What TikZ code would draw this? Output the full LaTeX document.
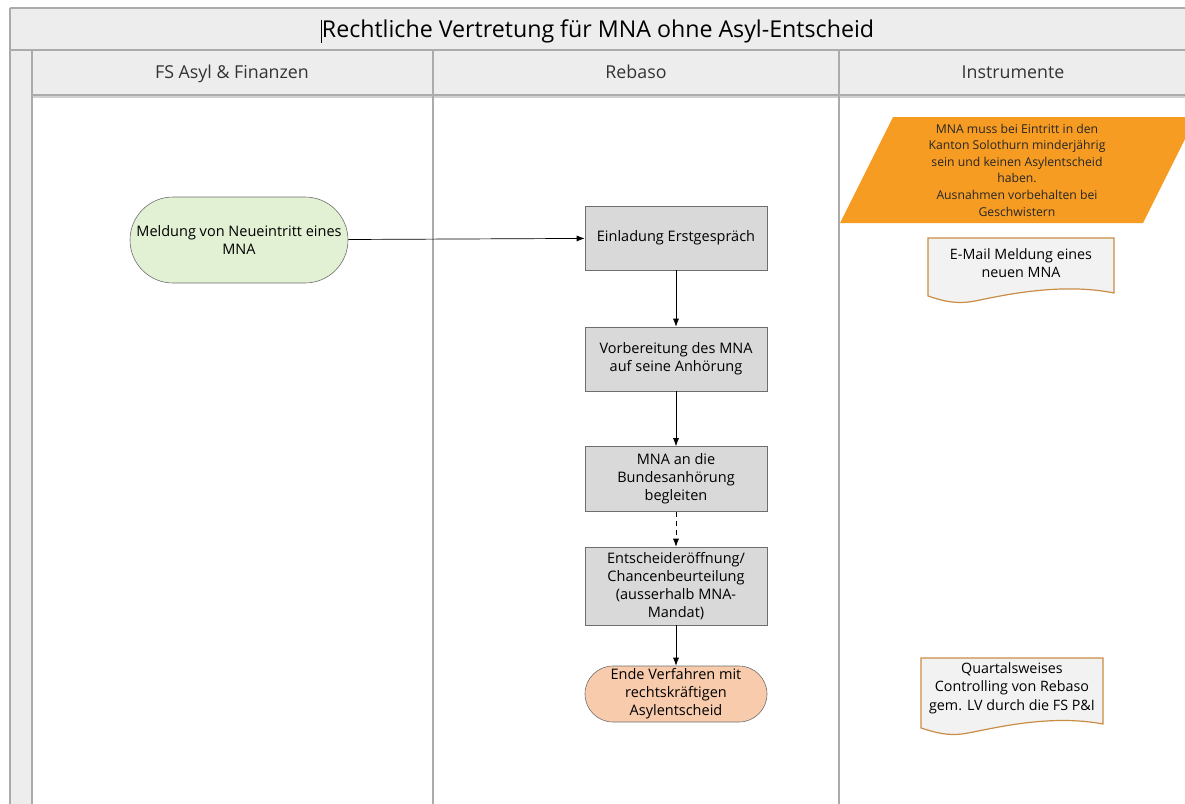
\documentclass[tikz,border=0pt]{standalone}
\usepackage{fontspec}
\setmainfont{Open Sans}
\usetikzlibrary{arrows.meta}

\definecolor{bandgray}{HTML}{EDEDED}
\definecolor{lanegray}{HTML}{ABABAB}
\definecolor{boxgray}{HTML}{D9D9D9}
\definecolor{boxline}{HTML}{6E6E6E}
\definecolor{startgreen}{HTML}{E2F0D4}
\definecolor{endpeach}{HTML}{F8CBAD}
\definecolor{noteorange}{HTML}{F79C23}
\definecolor{docline}{HTML}{C98D45}
\definecolor{docfill}{HTML}{F2F2F2}

\tikzset{
  lane/.style={draw=lanegray, line width=1.2pt},
  band/.style={fill=bandgray},
  stepbox/.style={draw=boxline, fill=boxgray, line width=0.6pt,
    minimum width=182pt, minimum height=64pt, align=center,
    font=\fontsize{14.5}{18}\selectfont, inner sep=1pt},
  terminal/.style={draw=boxline, line width=0.6pt, align=center,
    font=\fontsize{14.5}{18}\selectfont, inner sep=1pt},
  flow/.style={-{Latex[length=8pt,width=6pt]}, line width=0.7pt},
  doctext/.style={align=center, font=\fontsize{14.3}{18.3}\selectfont, inner sep=0pt},
  head/.style={font=\fontsize{17.8}{20}\selectfont, text=black!80, anchor=base},
}

\begin{document}
\begin{tikzpicture}[x=1pt, y=-1pt]
\useasboundingbox (0,0) rectangle (1185,803);
\clip (0,0) rectangle (1185,803);

% title band, header row and left strip
\fill[band] (10,8) rectangle (1190,95);
\fill[band] (10,95) rectangle (32,810);
\fill[black!18] (32,95) rectangle (1190,98);
\draw[lane] (10,8) -- (1190,8);
\draw[lane] (10,8) -- (10,810);
\draw[lane] (10,50) -- (1190,50);
\draw[lane] (32,95) -- (1190,95);
\draw[lane] (32,50) -- (32,810);
\draw[lane] (433,50) -- (433,810);
\draw[lane] (839,50) -- (839,810);

% headings
\node[font=\fontsize{23.2}{26}\selectfont, anchor=base] (title) at (598,37) {Rechtliche Vertretung für MNA ohne Asyl-Entscheid};
\draw[line width=0.6pt] (title.west) ++(3,-11) -- ++(0,23);
\node[head] (h1) at (232,78) {FS Asyl \& Finanzen};
\node[head] (h2) at (636,78) {Rebaso};
\node[head] (h3) at (1013,78) {Instrumente};

% process steps
\node[terminal, fill=startgreen, minimum width=218pt, minimum height=86pt,
      rounded corners=43pt] (start) at (239,240) {Meldung von Neueintritt eines\\MNA};
\node[stepbox] (s1) at (676,238) {Einladung Erstgespräch};
\node[stepbox] (s2) at (676,359) {Vorbereitung des MNA\\auf seine Anhörung};
\node[stepbox, minimum height=65pt] (s3) at (676,479) {MNA an die\\Bundesanhörung\\begleiten};
\node[stepbox, minimum height=78pt] (s4) at (676,586) {Entscheideröffnung/\\Chancenbeurteilung\\(ausserhalb MNA-\\Mandat)};
\node[terminal, fill=endpeach, minimum width=182pt, minimum height=56pt,
      rounded corners=28pt] (end) at (676,694) {Ende Verfahren mit\\rechtskräftigen\\Asylentscheid};

\draw[flow] (start) -- (s1);
\draw[flow] (s1) -- (s2);
\draw[flow] (s2) -- (s3);
\draw[flow, dashed, dash pattern=on 5pt off 4pt] (s3) -- (s4);
\draw[flow] (s4) -- (end);

% instruments: condition note
\fill[noteorange] (893,117) -- (1196,117) -- (1143,223) -- (840,223) -- cycle;
\node[align=center, font=\fontsize{12.2}{16.6}\selectfont, text=black!85] (cond) at (1017,170)
  {MNA muss bei Eintritt in den\\Kanton Solothurn minderjährig\\sein und keinen Asylentscheid\\haben.\\Ausnahmen vorbehalten bei\\Geschwistern};

% instruments: documents
\fill[docfill] (928,238) -- (1114,238) -- (1114,293)
  .. controls (1060,282) and (1000,296) .. (975,301)
  .. controls (955,305) and (940,300) .. (928,296) -- cycle;
\draw[docline, line width=1.2pt] (928,238) -- (1114,238) -- (1114,293)
  .. controls (1060,282) and (1000,296) .. (975,301)
  .. controls (955,305) and (940,300) .. (928,296) -- cycle;
\node[doctext] (mail) at (1021,263) {E-Mail Meldung eines\\neuen MNA};

\fill[docfill] (921,658) -- (1103,658) -- (1103,724)
  .. controls (1050,714) and (995,728) .. (968,733)
  .. controls (948,737) and (934,732) .. (921,728) -- cycle;
\draw[docline, line width=1.2pt] (921,658) -- (1103,658) -- (1103,724)
  .. controls (1050,714) and (995,728) .. (968,733)
  .. controls (948,737) and (934,732) .. (921,728) -- cycle;
\node[doctext] (ctrl) at (1012,688) {Quartalsweises\\Controlling von Rebaso\\gem. LV durch die FS P\&I};
\end{tikzpicture}
\end{document}
